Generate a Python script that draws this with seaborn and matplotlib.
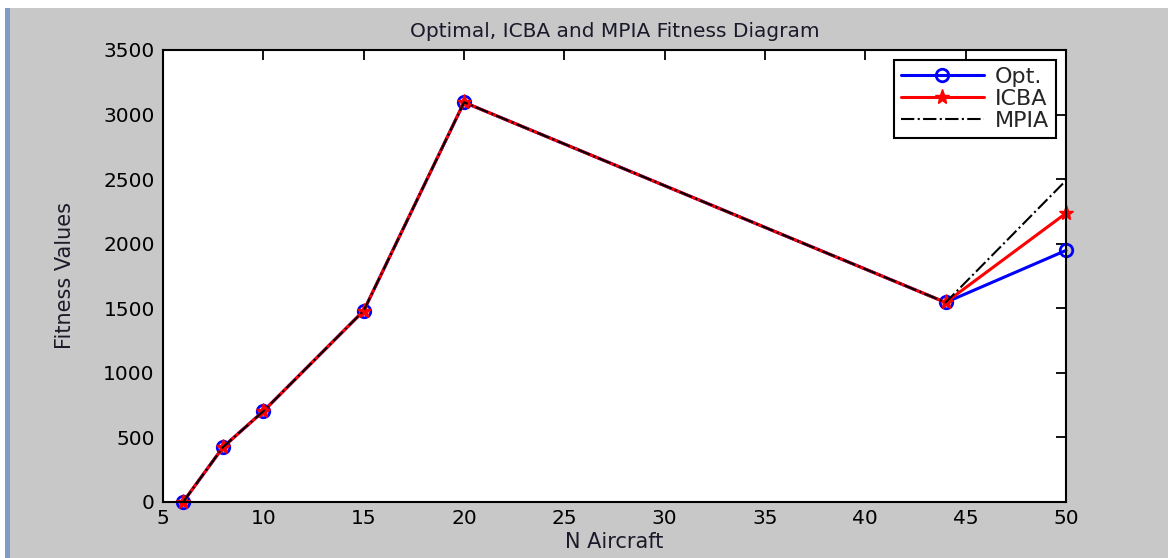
import pandas as pd
import matplotlib
matplotlib.use("Agg")
import matplotlib.pyplot as plt
from matplotlib.patches import Rectangle
import seaborn as sns

# values
n_aircraft = [6, 8, 10, 15, 20, 44, 50]
opt_fitness = [0, 427, 703, 1481, 3095, 1545, 1948]
icba_fitness = [0, 427, 703, 1481, 3095, 1545, 2236]
mpia_fitness = [0, 427, 703, 1481, 3095, 1545, 2490]

df = pd.DataFrame({
    "N Aircraft": n_aircraft,
    "Opt.": opt_fitness,
    "ICBA": icba_fitness,
    "MPIA": mpia_fitness,
})

sns.set_style("white")
plt.rcParams["font.family"] = ["DejaVu Sans"]

grey = "#c8c8c8"
fig = plt.figure(figsize=(11.68, 5.58), dpi=100, facecolor=grey)
ax = fig.add_axes([0.1396, 0.1004, 0.7731, 0.81])
ax.set_facecolor("white")

# window frame bits from the screenshot
fig.add_artist(Rectangle((0, 0.985), 1, 0.015, transform=fig.transFigure,
                         facecolor="white", edgecolor="none", zorder=0))
fig.add_artist(Rectangle((0, 0), 0.0045, 0.985, transform=fig.transFigure,
                         facecolor="white", edgecolor="none", zorder=0))
fig.add_artist(Rectangle((0.0045, 0), 0.004, 0.985, transform=fig.transFigure,
                         facecolor="#7f9cc8", edgecolor="none", zorder=0))

sns.lineplot(data=df, x="N Aircraft", y="Opt.", ax=ax, color="blue",
             linewidth=2.2, marker="o", markersize=9, markerfacecolor="none",
             markeredgecolor="blue", markeredgewidth=2, label="Opt.",
             clip_on=False)
sns.lineplot(data=df, x="N Aircraft", y="ICBA", ax=ax, color="red",
             linewidth=2.2, marker="*", markersize=11, markeredgecolor="red",
             markeredgewidth=1, label="ICBA", clip_on=False)
sns.lineplot(data=df, x="N Aircraft", y="MPIA", ax=ax, color="black",
             linewidth=1.5, linestyle="-.", label="MPIA", clip_on=False)

ax.set_xlim(5, 50)
ax.set_ylim(0, 3500)
ax.set_xticks(range(5, 51, 5))
ax.set_yticks(range(0, 3501, 500))

ax.tick_params(direction="in", top=True, right=True, length=7, width=1.3,
               labelsize=14.5, colors="black")
ax.tick_params(axis="y", pad=6)
ax.tick_params(axis="x", pad=5)
for s in ax.spines.values():
    s.set_color("black")
    s.set_linewidth(1.5)

ax.set_title("Optimal, ICBA and MPIA Fitness Diagram", fontsize=14.5, pad=9,
             color="#1a1a2a")
ax.set_xlabel("N Aircraft", fontsize=15, labelpad=3, color="#1a1a2a")
ax.set_ylabel("Fitness Values", fontsize=15, labelpad=20, color="#1a1a2a")

leg = ax.legend(loc="upper right", fancybox=False, edgecolor="black",
                framealpha=1, fontsize=16, handlelength=3.75,
                handletextpad=0.5, labelspacing=0.1, borderpad=0.3,
                borderaxespad=0.45)
leg.get_frame().set_linewidth(1.5)

fig.savefig("out.png", dpi=100, facecolor=fig.get_facecolor())
